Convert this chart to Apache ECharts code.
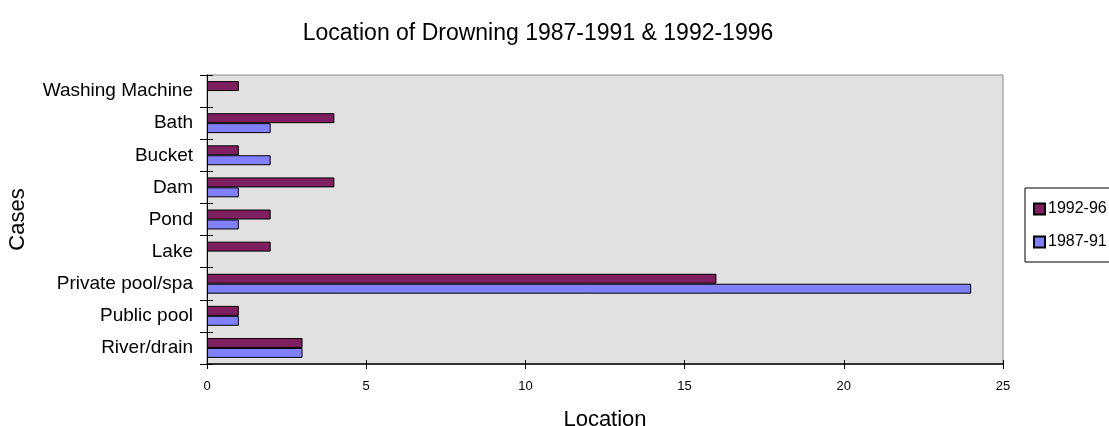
<!DOCTYPE html>
<html>
<head>
<meta charset="utf-8">
<script src="https://cdn.jsdelivr.net/npm/echarts@6/dist/echarts.min.js"></script>
<style>
html,body{margin:0;padding:0;background:#fff;}
#chart{width:1109px;height:426px;}
</style>
</head>
<body>
<div id="chart"></div>
<script>
const categories = ["River/drain", "Public pool", "Private pool/spa", "Lake", "Pond", "Dam", "Bucket", "Bath", "Washing Machine"];
const series1987 = [3, 1, 24, 0, 1, 1, 2, 2, 0];
const series1992 = [3, 1, 16, 2, 2, 4, 1, 4, 1];
const xTicks = [0, 5, 10, 15, 20, 25];

const FONT = '"Liberation Sans", Arial, sans-serif';
const noZero = arr => arr.map(v => (v === 0 ? '-' : v));
const chart = echarts.init(document.getElementById('chart'));
chart.setOption({
  animation: false,
  textStyle: { fontFamily: FONT, color: '#000' },
  title: {
    text: 'Location of Drowning 1987-1991 & 1992-1996',
    left: 533, top: 17, textAlign: 'center',
    textStyle: { fontFamily: FONT, fontSize: 23, fontWeight: 'normal', color: '#000' }
  },
  legend: {
    orient: 'vertical',
    left: 1025, top: 188,
    padding: [13, 60, 12, 8],
    itemGap: 17,
    itemWidth: 11, itemHeight: 11,
    icon: 'rect',
    borderColor: '#000', borderWidth: 1,
    backgroundColor: '#fff',
    data: ['1992-96', '1987-91'],
    textStyle: { fontFamily: FONT, fontSize: 16, color: '#000', padding: [0, 0, 0, -2] }
  },
  grid: {
    left: 207, right: 106, top: 75, bottom: 62,
    outerBoundsMode: 'none', containLabel: false,
    show: true, backgroundColor: '#e1e1e1', borderColor: '#8a8a8a', borderWidth: 1
  },
  xAxis: [{
    type: 'value', min: xTicks[0], max: xTicks[xTicks.length - 1], interval: 5,
    name: 'Location', nameLocation: 'middle', nameGap: 45,
    nameTextStyle: { fontFamily: FONT, fontSize: 22, color: '#000' },
    axisLine: { show: true, lineStyle: { color: '#333', width: 2 } },
    axisTick: { show: true, length: 5, lineStyle: { color: '#000' } },
    axisLabel: { fontFamily: FONT, fontSize: 13, color: '#000', margin: 16 },
    splitLine: { show: false }
  }, {
    type: 'value', position: 'bottom', min: xTicks[0], max: xTicks[xTicks.length - 1], interval: 5,
    axisLine: { show: false },
    axisTick: { show: true, inside: true, length: 4, lineStyle: { color: '#000' } },
    axisLabel: { show: false }, splitLine: { show: false }
  }],
  yAxis: [{
    type: 'category', data: categories,
    name: 'Cases', nameLocation: 'middle', nameGap: 178, nameRotate: 90,
    nameTextStyle: { fontFamily: FONT, fontSize: 22, color: '#000' },
    axisLine: { show: true, lineStyle: { color: '#000', width: 1 } },
    axisTick: { show: true, length: 7, lineStyle: { color: '#000' } },
    axisLabel: { fontFamily: FONT, fontSize: 19, color: '#000', margin: 14 }
  }, {
    type: 'category', data: categories, position: 'left',
    axisLine: { show: false },
    axisTick: { show: true, inside: true, length: 6, lineStyle: { color: '#000' } },
    axisLabel: { show: false }
  }],
  series: [{
    name: '1992-96', type: 'bar', data: noZero(series1992),
    xAxisIndex: 0, yAxisIndex: 0,
    barGap: '0%', barCategoryGap: '38%',
    itemStyle: { color: '#7f1f5f', borderColor: '#000', borderWidth: 1 }
  }, {
    name: '1987-91', type: 'bar', data: noZero(series1987),
    xAxisIndex: 0, yAxisIndex: 0,
    barGap: '0%', barCategoryGap: '38%',
    itemStyle: { color: '#8080ff', borderColor: '#000', borderWidth: 1 }
  }]
});
</script>
</body>
</html>
